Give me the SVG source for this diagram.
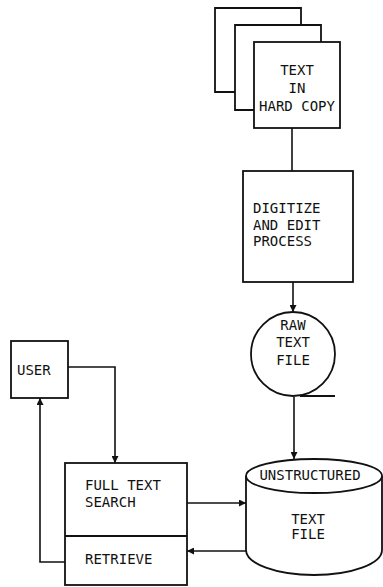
<svg xmlns="http://www.w3.org/2000/svg" width="383" height="587" viewBox="0 0 383 587">
<style>
.s{fill:none;stroke:#111;stroke-width:1.8;stroke-linejoin:miter}
.b{fill:#fff;stroke:#111;stroke-width:1.8}
.c{fill:none;stroke:#111;stroke-width:1.6}
text{font-family:"DejaVu Sans Mono","Liberation Mono",monospace;font-size:14px;fill:#111}
.m{text-anchor:middle}
</style>
<defs>
<marker id="ah" viewBox="0 0 10 10" refX="10" refY="5" markerWidth="7" markerHeight="7" markerUnits="userSpaceOnUse" orient="auto">
<path d="M0,0 L10,5 L0,10 Z" fill="#111"/>
</marker>
</defs>
<rect width="383" height="587" fill="#fff"/>
<g id="hardcopy">
<path class="s" d="M235,92 H215 V8 H301 V25"/>
<path class="s" d="M254,110 H235 V25 H321 V42"/>
<rect class="b" x="254" y="42" width="86" height="86"/>
<text class="m" x="297" y="75">TEXT</text>
<text class="m" x="297" y="93">IN</text>
<text class="m" x="297" y="111">HARD COPY</text>
</g>
<g id="digitize">
<rect class="b" x="243" y="171" width="110" height="111"/>
<text x="253" y="213">DIGITIZE</text>
<text x="253" y="230">AND EDIT</text>
<text x="253" y="246">PROCESS</text>
</g>
<g id="rawfile">
<circle class="b" cx="293" cy="354" r="42"/>
<line class="s" x1="300" y1="396" x2="335" y2="396"/>
<text class="m" x="293" y="330">RAW</text>
<text class="m" x="293" y="347">TEXT</text>
<text class="m" x="293" y="365">FILE</text>
</g>
<g id="textfile">
<path class="b" d="M246,476 V550 A68,25 0 0 0 382,550 V476"/>
<ellipse class="b" cx="314" cy="476" rx="68" ry="17"/>
<text class="m" x="310" y="480">UNSTRUCTURED</text>
<text class="m" x="308" y="524">TEXT</text>
<text class="m" x="308" y="539">FILE</text>
</g>
<g id="user">
<rect class="b" x="11" y="341" width="57" height="57"/>
<text x="17" y="375">USER</text>
</g>
<g id="search">
<rect class="b" x="65" y="463" width="122" height="122"/>
<line class="s" x1="65" y1="536" x2="187" y2="536"/>
<text x="85" y="490">FULL TEXT</text>
<text x="85" y="507">SEARCH</text>
<text x="85" y="564">RETRIEVE</text>
</g>
<g id="connectors">
<line class="c" x1="292" y1="128" x2="292" y2="171"/>
<line class="c" x1="293" y1="282" x2="293" y2="312" marker-end="url(#ah)"/>
<line class="c" x1="294" y1="397" x2="294" y2="459" marker-end="url(#ah)"/>
<polyline class="c" points="68,367 115,367 115,463" marker-end="url(#ah)"/>
<line class="c" x1="187" y1="503" x2="246" y2="503" marker-end="url(#ah)"/>
<line class="c" x1="246" y1="551" x2="187" y2="551" marker-end="url(#ah)"/>
<polyline class="c" points="65,562 40,562 40,398" marker-end="url(#ah)"/>
</g>
</svg>
